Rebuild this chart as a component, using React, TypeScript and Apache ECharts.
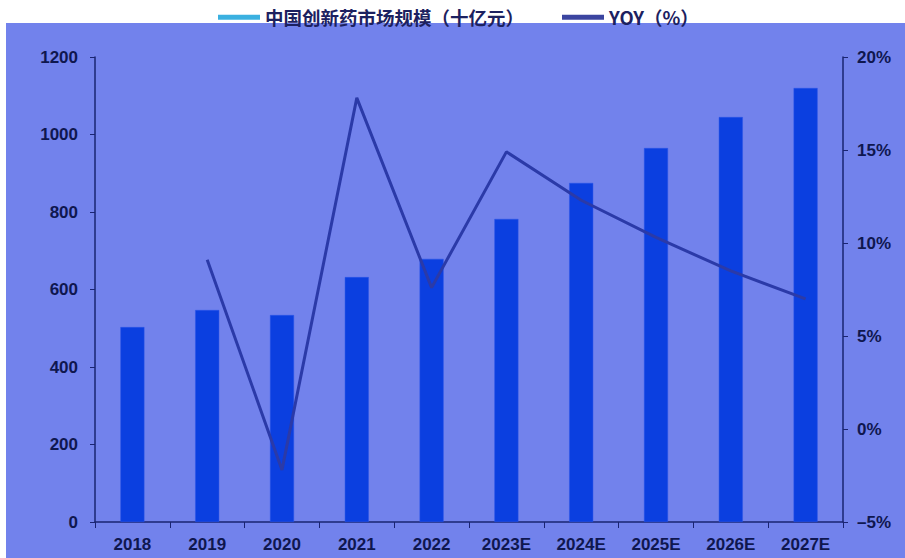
import React, { useEffect, useRef } from "react";
import * as echarts from "echarts";

const categories = ["2018", "2019", "2020", "2021", "2022", "2023E", "2024E", "2025E", "2026E", "2027E"];
const marketSize = [503, 547, 534, 632, 679, 782, 875, 965, 1045, 1120];
const yoy: (number | null)[] = [null, 9.1, -2.2, 17.8, 7.6, 14.9, 12.3, 10.3, 8.5, 7.0];
const barName = "中国创新药市场规模（十亿元）";
const lineName = "YOY（%）";

const axisColor = "#1a2472";
const labelColor = "#0f174f";
const font = "Liberation Sans, Arial, sans-serif";

export default function App() {
  const ref = useRef<HTMLDivElement>(null);
  useEffect(() => {
    if (!ref.current) return;
    const chart = echarts.init(ref.current, undefined, { renderer: "svg" });
    chart.setOption({
      animation: false,
      backgroundColor: "#ffffff",
      graphic: [
        {
          type: "rect",
          z: -10,
          silent: true,
          shape: { x: 6, y: 23, width: 899, height: 535 },
          style: { fill: "#7282ec" },
        },
      ],
      legend: {
        top: 3,
        left: 213,
        itemGap: 38,
        itemWidth: 42,
        itemHeight: 5,
        textStyle: { color: "#1c2160", fontSize: 18.5, fontWeight: "bold", fontFamily: "Noto Sans CJK SC, sans-serif" },
        data: [
          { name: barName, icon: "rect", itemStyle: { color: "#3ab0e0", borderWidth: 0 } },
          { name: lineName, icon: "rect", itemStyle: { color: "#3b45a0", borderWidth: 0 } },
        ],
      },
      grid: { left: 95, right: 62, top: 57, bottom: 36 },
      xAxis: {
        type: "category",
        data: categories,
        boundaryGap: true,
        axisLine: { lineStyle: { color: axisColor, width: 1.5 } },
        axisTick: { show: true, length: 6, lineStyle: { color: axisColor } },
        axisLabel: { color: labelColor, fontSize: 17, fontWeight: "bold", fontFamily: font, margin: 14 },
      },
      yAxis: [
        {
          type: "value",
          min: 0,
          max: 1200,
          interval: 200,
          splitLine: { show: false },
          axisLine: { show: true, lineStyle: { color: axisColor, width: 1.5 } },
          axisTick: { show: true, length: 5, lineStyle: { color: axisColor } },
          axisLabel: {
            color: labelColor,
            fontSize: 17,
            fontWeight: "bold",
            fontFamily: font,
            margin: 17,
            formatter: (v: number) => String(v),
          },
        },
        {
          type: "value",
          min: -5,
          max: 20,
          interval: 5,
          splitLine: { show: false },
          axisLine: { show: true, lineStyle: { color: axisColor, width: 1.5 } },
          axisTick: { show: true, length: 5, lineStyle: { color: axisColor } },
          axisLabel: {
            color: labelColor,
            fontSize: 17,
            fontWeight: "bold",
            fontFamily: font,
            margin: 14,
            formatter: (v: number) => (v < 0 ? "–" + Math.abs(v) : v) + "%",
          },
        },
      ],
      series: [
        {
          name: barName,
          type: "bar",
          data: marketSize,
          barWidth: 24,
          itemStyle: { color: "#0b3fe0", borderColor: "#2a55e8", borderWidth: 0.5 },
        },
        {
          name: lineName,
          type: "line",
          yAxisIndex: 1,
          data: yoy,
          showSymbol: false,
          symbol: "none",
          lineStyle: { color: "#2b3aa8", width: 3 },
          itemStyle: { color: "#2b3aa8" },
        },
      ],
    });
    return () => chart.dispose();
  }, []);
  return (
    <div
      ref={ref}
      style={{ position: "fixed", left: 0, top: 0, width: 905, height: 558 }}
    />
  );
}
